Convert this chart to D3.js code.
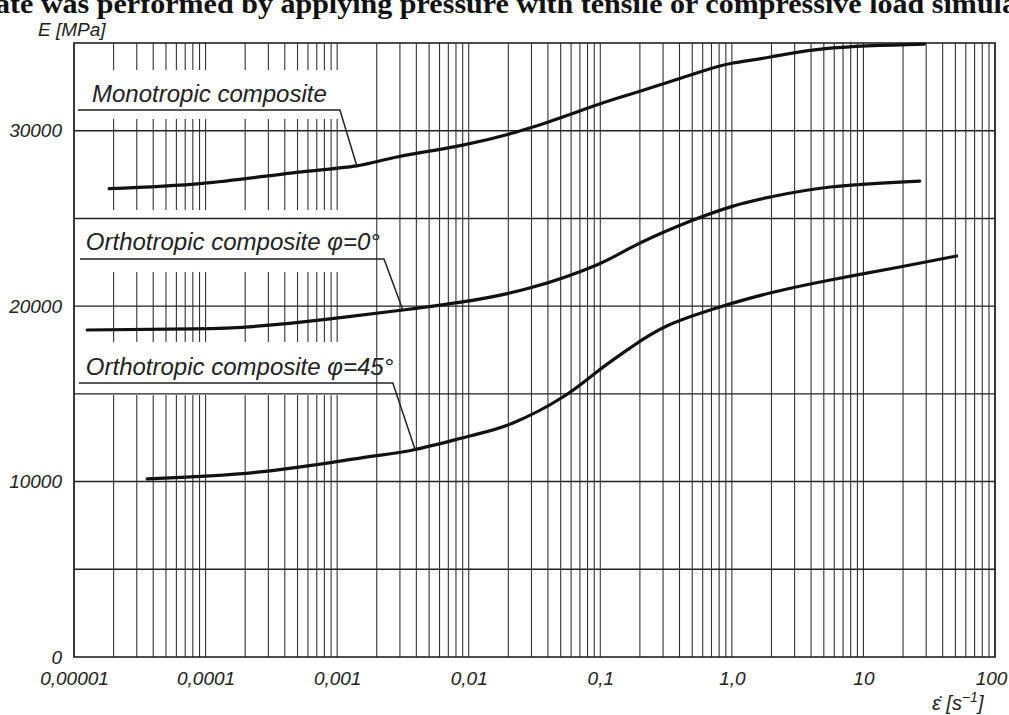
<!DOCTYPE html>
<html>
<head>
<meta charset="utf-8">
<script src="https://cdn.jsdelivr.net/npm/d3@7"></script>
<style>
  body { margin: 0; background: #fff; }
  svg { display: block; }
  .tick text { font-family: "Liberation Sans", Arial, sans-serif; font-style: italic; fill: #222; }
</style>
</head>
<body>
<div id="chart"></div>
<script>
// strain rate [1/s] and Young's modulus [MPa]
const monoRate = [1.85e-5, 9.5e-5, 4.6e-4, 1.41e-3, 2.85e-3, 9.0e-3, 2.9e-2, 9.4e-2, 0.2, 0.57, 1.02, 1.95, 5.6, 29];
const monoE    = [26700, 27000, 27600, 28000, 28500, 29180, 30150, 31470, 32250, 33350, 33860, 34200, 34710, 34940];

const ortho0Rate = [1.26e-5, 8.0e-5, 2.6e-4, 8.8e-4, 3.16e-3, 9.0e-3, 2.9e-2, 9.4e-2, 0.168, 0.40, 1.02, 1.95, 5.6, 26.8];
const ortho0E    = [18640, 18700, 18870, 19270, 19780, 20240, 21030, 22350, 23310, 24600, 25700, 26220, 26790, 27130];

const ortho45Rate = [3.6e-5, 2.6e-4, 1.49e-3, 3.77e-3, 1.02e-2, 2.17e-2, 5.2e-2, 9.4e-2, 0.168, 0.32, 0.81, 1.95, 5.6, 18.9, 51];
const ortho45E    = [10150, 10550, 11340, 11800, 12600, 13340, 14820, 16250, 17610, 18870, 19950, 20750, 21490, 22230, 22860];

const seriesNames = ["Monotropic composite", "Orthotropic composite \u03c6=0\u00b0", "Orthotropic composite \u03c6=45\u00b0"];

const xTickValues = [1e-5, 1e-4, 1e-3, 1e-2, 1e-1, 1, 10, 100];
const xTickLabels = ["0,00001", "0,0001", "0,001", "0,01", "0,1", "1,0", "10", "100"];
const yTickValues = [0, 10000, 20000, 30000];
const yTickLabels = ["0", "10000", "20000", "30000"];

// label anchors in data units: text start, leader line, point on the curve, grid gap
const labelTextRate  = [1.37e-5, 1.23e-5, 1.23e-5];
const labelTextE     = [31640, 23200, 16070];
const leaderE        = [31180, 22690, 15620];
const leaderStart    = [1.07e-5, 1.11e-5, 1.09e-5];
const leaderEnd      = [1.05e-3, 2.27e-3, 2.65e-3];
const leaderToRate   = [1.41e-3, 3.16e-3, 3.9e-3];
const leaderToE      = [28000, 19780, 11860];
const gapTopE        = [33460, 25480, 17960];
const gapBottomE     = [30670, 21950, 14930];
const gapRateMax = 1.15e-3;

const W = 1009, H = 715;

const svg = d3.select("#chart").append("svg")
    .attr("width", W)
    .attr("height", H);

const x = d3.scaleLog()
    .domain([1e-5, 100])
    .range([74, 995]);
const y = d3.scaleLinear()
    .domain([0, 35000])
    .range([657, 43]);

// cut-off line of the surrounding document
svg.append("text")
    .attr("x", -5)
    .attr("y", 13)
    .attr("textLength", 1022)
    .attr("lengthAdjust", "spacingAndGlyphs")
    .style("font-family", "'Liberation Serif', 'Times New Roman', serif")
    .style("font-size", "27px")
    .style("font-weight", "bold")
    .style("fill", "#111")
    .text("ate was performed by applying pressure with tensile or compressive load simula");

// vertical log grid
svg.append("g")
    .selectAll("line")
    .data(x.ticks())
    .enter()
    .append("line")
    .attr("x1", d => x(d))
    .attr("x2", d => x(d))
    .attr("y1", y(35000))
    .attr("y2", y(0))
    .style("stroke", "#333")
    .style("stroke-width", 1.1);

// white bands behind the labels
svg.append("g")
    .selectAll("rect")
    .data(d3.range(seriesNames.length))
    .enter()
    .append("rect")
    .attr("x", x(1e-5) + 1)
    .attr("width", x(gapRateMax) - x(1e-5) - 1)
    .attr("y", i => y(gapTopE[i]))
    .attr("height", i => y(gapBottomE[i]) - y(gapTopE[i]))
    .style("fill", "#fff");

// horizontal grid
svg.append("g")
    .selectAll("line")
    .data(d3.range(5000, 35000, 5000))
    .enter()
    .append("line")
    .attr("x1", x(1e-5))
    .attr("x2", x(100))
    .attr("y1", d => y(d))
    .attr("y2", d => y(d))
    .style("stroke", "#222")
    .style("stroke-width", 1.4);

// frame
svg.append("rect")
    .attr("x", x(1e-5))
    .attr("y", y(35000))
    .attr("width", x(100) - x(1e-5))
    .attr("height", y(0) - y(35000))
    .style("fill", "none")
    .style("stroke", "#222")
    .style("stroke-width", 1.6);

// axes labels
const xAxis = d3.axisBottom(x)
    .tickValues(xTickValues)
    .tickFormat((d, i) => xTickLabels[i])
    .tickSize(0)
    .tickPadding(15);
const xg = svg.append("g")
    .attr("transform", "translate(0," + y(0) + ")")
    .call(xAxis);
xg.select(".domain").remove();
xg.selectAll("text").style("font-size", "19px");
xg.selectAll("text").filter(d => d === 100).attr("dx", -4);

const yAxis = d3.axisLeft(y)
    .tickValues(yTickValues)
    .tickFormat((d, i) => yTickLabels[i])
    .tickSize(0)
    .tickPadding(12);
const yg = svg.append("g")
    .attr("transform", "translate(" + x(1e-5) + ",0)")
    .call(yAxis);
yg.select(".domain").remove();
yg.selectAll("text").style("font-size", "19px");

svg.append("text")
    .attr("x", 38)
    .attr("y", 36)
    .style("font-family", "'Liberation Sans', Arial, sans-serif")
    .style("font-style", "italic")
    .style("font-size", "19px")
    .style("fill", "#222")
    .text("E [MPa]");

const unit = svg.append("text")
    .attr("x", 932)
    .attr("y", 710)
    .style("font-family", "'Liberation Sans', Arial, sans-serif")
    .style("font-style", "italic")
    .style("font-size", "20px")
    .style("fill", "#222");
unit.append("tspan").text("\u03b5\u0307 [s");
unit.append("tspan").attr("dy", -8).style("font-size", "14px").text("\u22121");
unit.append("tspan").attr("dy", 8).text("]");

// curves
const series = [
    monoRate.map((r, i) => ({rate: r, E: monoE[i]})),
    ortho0Rate.map((r, i) => ({rate: r, E: ortho0E[i]})),
    ortho45Rate.map((r, i) => ({rate: r, E: ortho45E[i]}))
];

const line = d3.line()
    .x(d => x(d.rate))
    .y(d => y(d.E))
    .curve(d3.curveNatural);

svg.append("g")
    .selectAll("path")
    .data(series)
    .enter()
    .append("path")
    .attr("d", line)
    .style("fill", "none")
    .style("stroke", "#111")
    .style("stroke-width", 3.2)
    .style("stroke-linecap", "round");

// leaders and labels
const labels = svg.append("g")
    .selectAll("g")
    .data(d3.range(seriesNames.length))
    .enter()
    .append("g");

labels.append("path")
    .attr("d", i => "M" + x(leaderStart[i]) + "," + y(leaderE[i]) +
        "L" + x(leaderEnd[i]) + "," + y(leaderE[i]) +
        "L" + x(leaderToRate[i]) + "," + y(leaderToE[i]))
    .style("fill", "none")
    .style("stroke", "#222")
    .style("stroke-width", 1.5);

labels.append("text")
    .attr("x", i => x(labelTextRate[i]))
    .attr("y", i => y(labelTextE[i]))
    .style("font-family", "'Liberation Sans', Arial, sans-serif")
    .style("font-style", "italic")
    .style("font-size", "24px")
    .style("fill", "#222")
    .text(i => seriesNames[i]);
</script>
</body>
</html>
